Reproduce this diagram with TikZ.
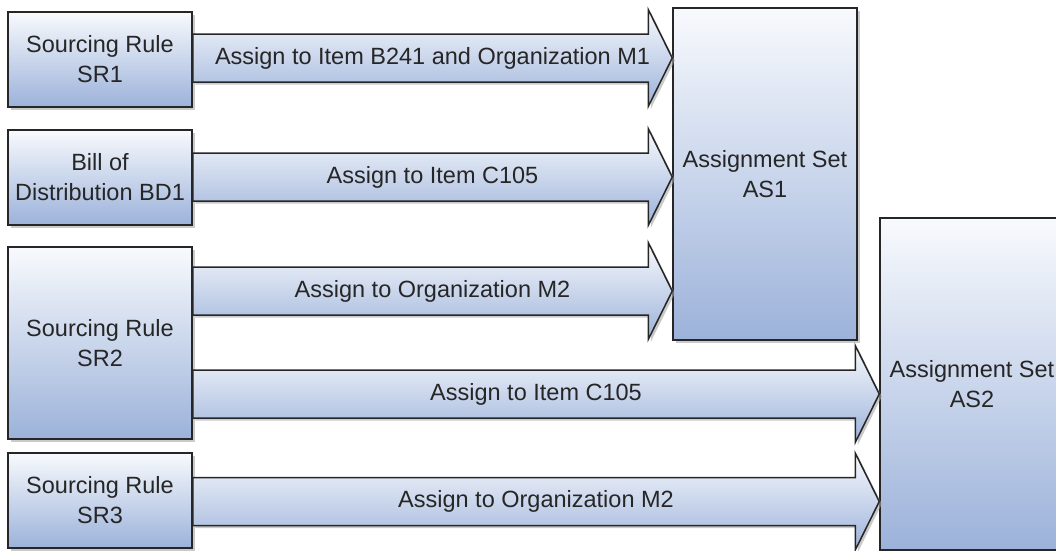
\documentclass[tikz,border=0pt]{standalone}
\usepackage{fontspec}
\setmainfont{Liberation Sans}
\usetikzlibrary{calc,shadows}

\definecolor{boxtop}{HTML}{F8FAFD}
\definecolor{boxbot}{HTML}{9CB2DA}
\definecolor{edge}{HTML}{262626}

\tikzset{
  softshadow/.style={drop shadow={shadow xshift=2.5pt,shadow yshift=-2.5pt,fill=black!35,opacity=0.6}},
  rulebox/.style={draw=edge, line width=1.5pt, top color=boxtop, bottom color=boxbot,
    minimum width=184pt, inner sep=1pt, align=center, text=black!85,
    font=\fontsize{23.5}{30}\selectfont, softshadow},
  flowarrow/.style={draw=edge, line width=1.5pt, top color=boxtop, bottom color=boxbot,
    line join=miter, softshadow},
  flowlabel/.style={text=black!85, inner sep=0pt, font=\fontsize{23.5}{30}\selectfont}
}

% block arrow: source, target, centre y, label
\newcommand{\flow}[4]{%
  \draw[flowarrow] let \p1=(#1.east), \p2=(#2.west) in
    (\x1,#3+24pt) -- (\x2-24pt,#3+24pt) -- (\x2-24pt,#3+48.5pt) -- (\x2,#3)
    -- (\x2-24pt,#3-48.5pt) -- (\x2-24pt,#3-24pt) -- (\x1,#3-24pt) -- cycle
    node[flowlabel, name=#1-#2] at ({(\x1+\x2)/2},#3) {#4};
}

\begin{document}
\begin{tikzpicture}[x=1pt,y=1pt]
  \useasboundingbox (0,0) rectangle (1056,-550);

  % Rules and distributions
  \node[rulebox, minimum height=95pt] (sr1) at (100,-59.5) {Sourcing Rule\\SR1};
  \node[rulebox, minimum height=95pt] (bd1) at (100,-177.5) {Bill of\\Distribution BD1};
  \node[rulebox, minimum height=192pt] (sr2) at (100,-343) {Sourcing Rule\\SR2};
  \node[rulebox, minimum height=95pt] (sr3) at (100,-500.5) {Sourcing Rule\\SR3};

  % Assignment sets
  \node[rulebox, minimum height=332pt] (as1) at (765,-174) {Assignment Set\\AS1};
  \node[rulebox, minimum height=332pt] (as2) at (972,-384) {Assignment Set\\AS2};

  % Assignments
  \flow{sr1}{as1}{-58pt}{Assign to Item B241 and Organization M1}
  \flow{bd1}{as1}{-177pt}{Assign to Item C105}
  \flow{sr2}{as1}{-291pt}{Assign to Organization M2}
  \flow{sr2}{as2}{-394pt}{Assign to Item C105}
  \flow{sr3}{as2}{-501.5pt}{Assign to Organization M2}
\end{tikzpicture}
\end{document}
